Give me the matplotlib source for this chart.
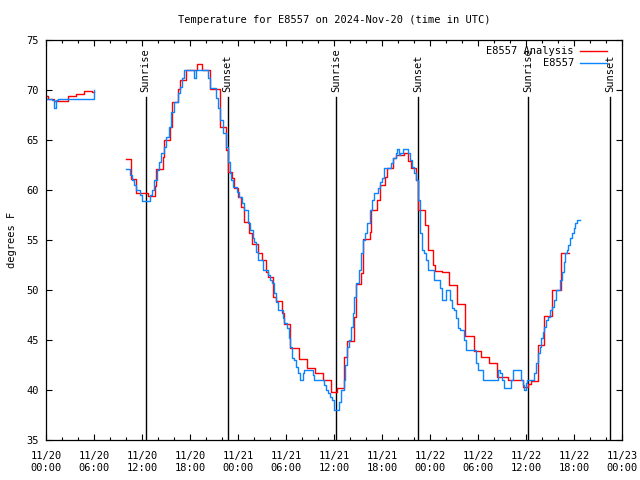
import matplotlib
matplotlib.use("Agg")
import matplotlib.pyplot as plt
from matplotlib.ticker import MultipleLocator

# hours since 2024-11-20 00:00 UTC
red_hours_1 = [0, 0.25, 1.0, 2.75, 3.75, 4.75, 5.75, 6.0]
red_temps_1 = [69.4, 69.1, 68.9, 69.4, 69.6, 69.9, 69.8, 69.8]

red_hours_2 = [9.94, 10.6, 11.3, 12.7, 13.6, 13.8, 14.6, 14.8, 15.5, 15.7, 16.5, 16.8,
               17.5, 18.9, 19.5, 20.5, 21.7, 22.5, 22.7, 23.2, 23.5, 24.0, 24.4, 24.7,
               25.4, 25.8, 26.5, 27.0, 27.5, 27.8, 28.4, 28.8, 29.5, 29.7, 30.5, 31.6,
               32.65, 33.6, 34.6, 35.65, 36.35, 37.3, 37.65, 38.45, 38.7, 39.4, 39.6,
               40.45, 40.65, 41.4, 41.7, 42.4, 42.65, 43.4, 43.8, 44.7, 45.3, 45.65,
               46.3, 46.5, 46.56, 47.4, 47.7, 48.35, 48.6, 49.5, 50.4, 51.4, 52.4,
               53.5, 54.4, 55.4, 56.4, 57.8, 59.6, 60.3, 60.6, 61.5, 62.3, 63.3, 64.4,
               65.35]
red_temps_2 = [63.1, 61.1, 59.7, 59.4, 60.4, 62.1, 63.3, 65.0, 66.3, 68.8, 70.1, 71.0,
               72.0, 72.6, 72.0, 70.1, 66.3, 64.0, 61.8, 61.2, 60.2, 59.3, 58.3, 56.8,
               55.7, 54.6, 53.7, 53.0, 51.8, 51.3, 49.3, 48.9, 47.7, 46.6, 44.2, 43.1,
               42.2, 41.7, 41.0, 39.8, 40.2, 43.3, 44.9, 47.3, 50.6, 51.7, 55.1,
               55.8, 58.0, 59.0, 60.5, 61.3, 62.2, 63.2, 63.5, 63.7, 62.9, 62.2,
               61.0, 59.0, 58.0, 56.5, 54.0, 52.5, 51.9, 51.8, 50.5, 48.6, 45.4,
               43.9, 43.3, 42.7, 41.3, 41.0, 40.3, 40.6, 40.9, 44.5, 47.4, 50.0, 53.7,
               53.7]

blue_hours_1 = [0, 0.75, 1.0, 1.25, 1.5, 5.75, 6.0]
blue_temps_1 = [69.1, 69.0, 68.2, 69.0, 69.1, 69.1, 70.0]

blue_hours_2 = [9.94, 10.44, 10.73, 11.06, 11.27, 11.69, 12.02, 12.94, 13.23, 13.56, 13.86,
                14.1, 14.4, 14.73, 15.02, 15.36, 15.65, 16.06, 16.48, 16.69, 17.02, 17.3,
                17.73, 18.56, 18.77, 20.23, 20.52, 21.27, 21.56, 21.77, 22.1, 22.44, 22.73,
                22.94, 23.15, 23.35, 23.9, 24.1, 24.5, 24.73, 25.23, 25.56, 25.85, 26.0,
                26.27, 26.48, 27.1, 27.73, 28.0, 28.2, 28.44, 28.7, 28.98, 29.6, 29.8,
                30.1, 30.35, 30.56, 30.77, 31.06, 31.27, 31.48, 31.7, 32.1, 32.3, 33.35,
                33.56, 34.8, 35.0, 35.2, 35.44, 35.7, 36.06, 36.35, 36.6, 36.9, 37.19,
                37.4, 37.6, 37.85, 38.15, 38.36, 38.56, 38.77, 39.1, 39.4, 39.6, 39.9,
                40.15, 40.44, 40.73, 41.06, 41.48, 41.69, 42.02, 42.31, 43.15, 43.35,
                43.69, 43.85, 44.1, 44.3, 44.6, 45.23, 45.52, 45.73, 46.06, 46.27, 46.48,
                46.7, 46.8, 46.98, 47.3, 47.5, 47.7, 48.56, 49.27, 49.48, 50.02, 50.52,
                50.77, 51.06, 51.27, 51.48, 51.69, 52.31, 52.52, 53.77, 54.06, 54.6,
                56.48, 56.8, 56.98, 57.23, 58.15, 58.35, 59.4, 59.6, 59.8, 60.02, 60.15,
                61.06, 61.27, 61.48, 61.69, 61.9, 62.1, 62.31, 62.52, 62.75, 63.06, 63.3,
                63.56, 63.77, 64.27, 64.48, 64.69, 64.9, 65.1, 65.31, 65.52, 65.73, 65.94,
                66.15, 66.35, 66.7]
blue_temps_2 = [62.1, 61.5, 61.0, 60.5, 60.0, 59.5, 58.9, 59.5, 60.0, 61.0, 62.0,
                62.8, 63.7, 64.3, 65.3, 66.3, 67.8, 68.8, 69.7, 70.3, 71.2, 72.0,
                72.0, 71.2, 72.0, 71.2, 70.2, 69.2, 68.2, 67.0, 65.7, 64.3, 62.8,
                61.7, 61.0, 60.3, 59.8, 59.3, 58.7, 58.0, 56.7, 56.0, 55.2, 54.8,
                53.8, 53.0, 52.0, 51.5, 51.0, 50.7, 49.7, 48.8, 48.0, 47.2, 46.7,
                46.2, 45.2, 44.3, 43.2, 43.0, 42.3, 41.7, 41.0, 41.7, 42.0, 41.5,
                41.0, 40.5, 40.0, 39.7, 39.3, 39.0, 38.0, 38.0, 38.8, 40.0, 41.0,
                42.5, 44.3, 45.0, 46.3, 47.7, 49.3, 50.7, 52.0, 53.7, 55.0, 55.7,
                56.7, 58.0, 59.0, 59.7, 60.2, 60.8, 61.2, 62.2, 62.7, 63.2,
                63.7, 64.1, 63.5, 63.7, 64.1, 63.7, 63.0, 62.3, 61.7, 61.0, 59.0,
                57.0, 55.7, 54.0, 53.7, 53.0, 52.0, 51.0, 50.2, 49.0, 50.0, 49.0,
                48.2, 48.0, 47.2, 46.2, 46.0, 45.0, 44.0, 42.7, 42.0, 41.0,
                42.0, 41.7, 41.0, 40.2, 41.0, 42.0, 41.0, 40.5, 40.0, 40.7, 41.0,
                41.7, 42.7, 43.7, 44.3, 45.2, 45.8, 46.3, 47.0, 47.3, 48.0, 48.3,
                49.0, 50.0, 51.0, 51.8, 52.8, 53.7, 54.0, 54.5, 55.2, 55.7, 56.2,
                56.7, 57.0, 57.0]

sun_hours = [12.44, 22.69, 36.31, 46.56, 60.31, 70.56]
sun_labels = ["Sunrise", "Sunset", "Sunrise", "Sunset", "Sunrise", "Sunset"]

tick_hours = list(range(0, 73, 6))
tick_labels = ["11/20\n00:00", "11/20\n06:00", "11/20\n12:00", "11/20\n18:00",
               "11/21\n00:00", "11/21\n06:00", "11/21\n12:00", "11/21\n18:00",
               "11/22\n00:00", "11/22\n06:00", "11/22\n12:00", "11/22\n18:00",
               "11/23\n00:00"]

plt.rcParams['font.family'] = ['DejaVu Sans Mono']
plt.rcParams['font.size'] = 7.5

fig = plt.figure(figsize=(6.4, 4.8), dpi=100)
ax = fig.add_axes([46 / 640, 40 / 480, 576 / 640, 400 / 480])

RED = '#ff0000'
BLUE = '#0a84ff'

for h, lab in zip(sun_hours, sun_labels):
    ax.plot([h, h], [35, 69.3], color='black', lw=1.0)
    ax.text(h, 69.8, lab, rotation=90, ha='center', va='bottom', fontsize=7.5)

ax.plot(red_hours_1, red_temps_1, color=RED, lw=1.0, drawstyle='steps-post',
        label='E8557 Analysis')
ax.plot(red_hours_2, red_temps_2, color=RED, lw=1.0, drawstyle='steps-post')
ax.plot(blue_hours_1, blue_temps_1, color=BLUE, lw=1.0, drawstyle='steps-post',
        label='E8557')
ax.plot(blue_hours_2, blue_temps_2, color=BLUE, lw=1.0, drawstyle='steps-post')

ax.set_xlim(0, 72)
ax.set_ylim(35, 75)
ax.set_xticks(tick_hours)
ax.set_xticklabels(tick_labels)
ax.xaxis.set_minor_locator(MultipleLocator(2))
ax.yaxis.set_major_locator(MultipleLocator(5))
ax.tick_params(which='both', direction='in', top=True, right=True, width=0.8)
ax.tick_params(which='major', length=4, labelsize=7.5)
ax.tick_params(axis='x', which='major', pad=8)
ax.tick_params(axis='y', which='major', pad=5)
ax.tick_params(which='minor', length=2.5)
for s in ax.spines.values():
    s.set_linewidth(0.9)

ax.set_ylabel('degrees F', fontsize=7.5, labelpad=7)
ax.set_title('Temperature for E8557 on 2024-Nov-20 (time in UTC)', fontsize=7.5, pad=12)

leg = ax.legend(loc='upper right', frameon=False, markerfirst=False, handlelength=2.6,
                fontsize=7.5, borderaxespad=0.2, labelspacing=0.2, handletextpad=0.6,
                bbox_to_anchor=(0.985, 1.0))

fig.savefig('out.png', dpi=100)
